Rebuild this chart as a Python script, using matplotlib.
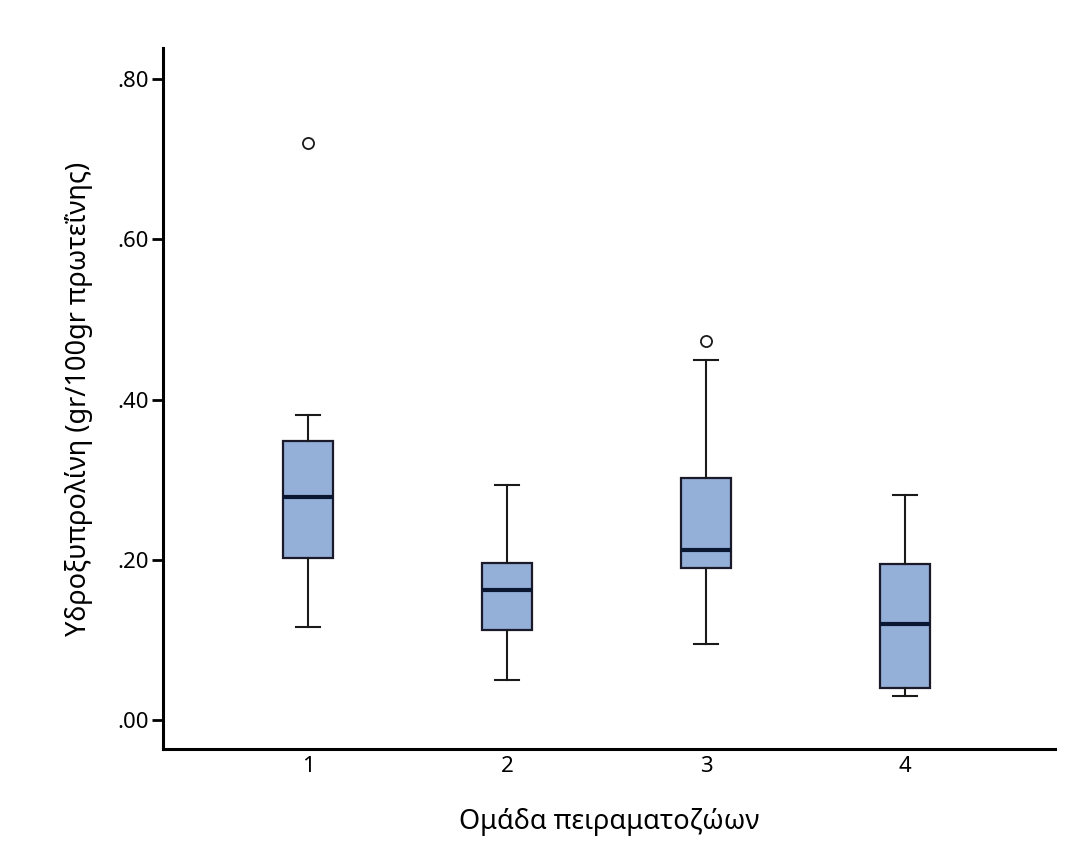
import matplotlib
matplotlib.use("Agg")
import matplotlib.pyplot as plt
from matplotlib.ticker import FuncFormatter

plt.rcParams['font.family'] = ['Noto Sans', 'DejaVu Sans']

groups = ["1", "2", "3", "4"]
q1 = [0.202, 0.112, 0.190, 0.040]
med = [0.278, 0.162, 0.213, 0.120]
q3 = [0.348, 0.196, 0.302, 0.195]
whislo = [0.116, 0.050, 0.095, 0.030]
whishi = [0.381, 0.293, 0.449, 0.281]
outliers = [[0.720], [], [0.473], []]

stats = []
for i, g in enumerate(groups):
    stats.append(dict(label=g, q1=q1[i], med=med[i], q3=q3[i],
                      whislo=whislo[i], whishi=whishi[i], fliers=outliers[i]))

fig = plt.figure(figsize=(10.78, 8.47), dpi=100)
ax = fig.add_axes([0.1512, 0.1157, 0.8275, 0.8276])

positions = [1, 2, 3, 4]
ax.bxp(stats, positions=positions, widths=0.251, patch_artist=True,
       boxprops=dict(facecolor="#94afd8", edgecolor="#1a1a2a", linewidth=1.6),
       medianprops=dict(color="#0b1630", linewidth=3),
       whiskerprops=dict(color="#1a1a1a", linewidth=1.5),
       capprops=dict(color="#1a1a1a", linewidth=1.5),
       capwidths=0.125,
       flierprops=dict(marker="o", markerfacecolor="white", markeredgecolor="#1a1a1a",
                       markersize=8, markeredgewidth=1.3))

ax.set_xlim(0.271, 4.754)
ax.set_ylim(-0.036, 0.839)
ax.set_yticks([0.0, 0.2, 0.4, 0.6, 0.8])
ax.yaxis.set_major_formatter(FuncFormatter(lambda v, p: ("%.2f" % v).lstrip("0") if v >= 0 else "%.2f" % v))
ax.set_xticks(positions)
ax.set_xticklabels(groups)

for s in ["top", "right"]:
    ax.spines[s].set_visible(False)
for s in ["left", "bottom"]:
    ax.spines[s].set_linewidth(2.2)
    ax.spines[s].set_color("black")

ax.tick_params(axis="y", length=8, width=2, labelsize=16, pad=2)
ax.tick_params(axis="x", length=0, labelsize=16, pad=5)

ax.set_xlabel("Ομάδα πειραματοζώων", fontsize=19.5, labelpad=22)
ax.set_ylabel("Υδροξυπρολίνη (gr/100gr πρωτεΐνης)", fontsize=19.5, labelpad=18)

fig.savefig("out.png", dpi=100)
